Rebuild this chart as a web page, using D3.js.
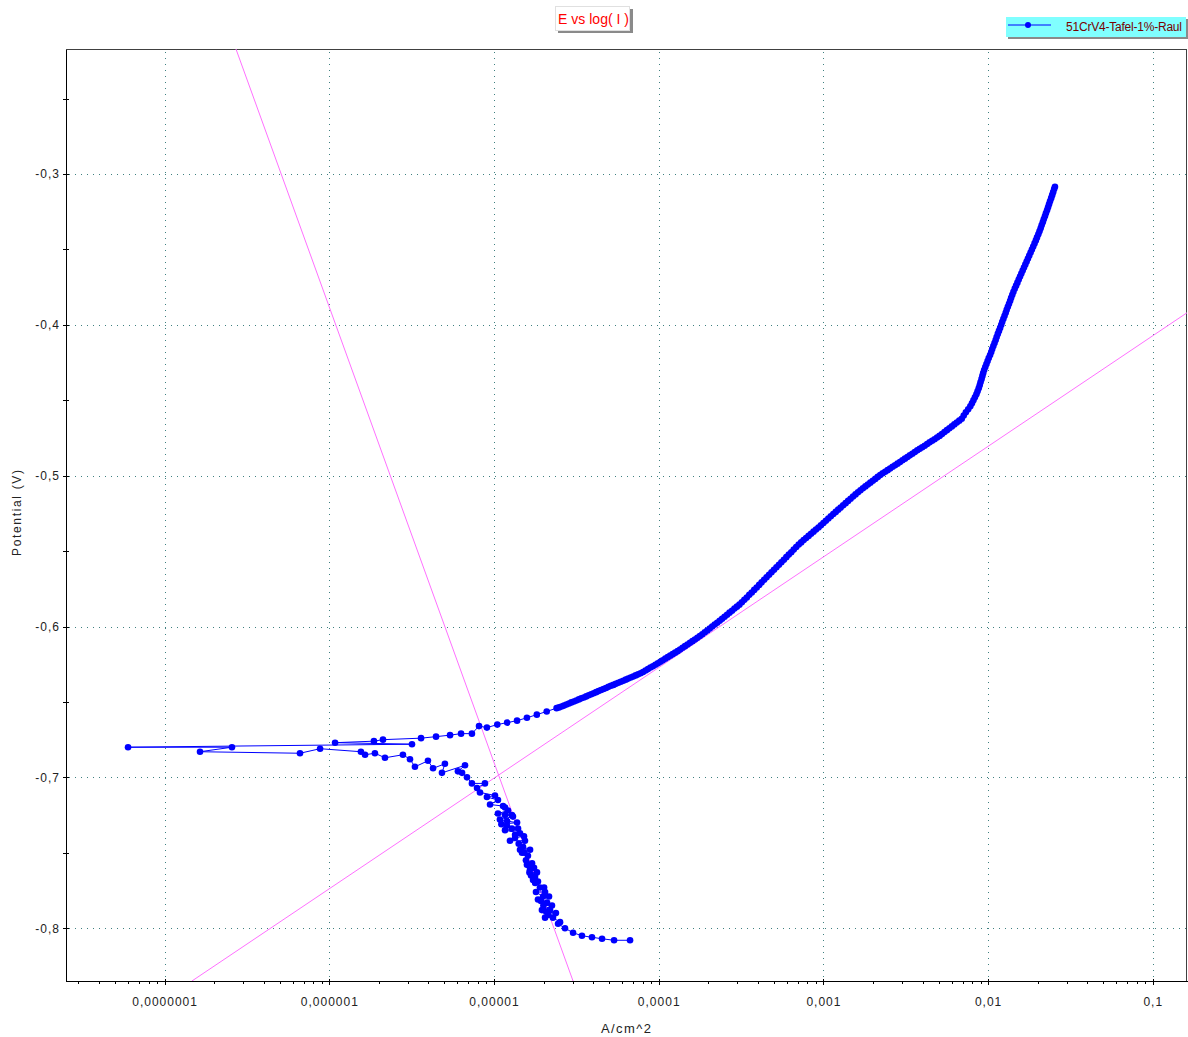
<!DOCTYPE html>
<html>
<head>
<meta charset="utf-8">
<script src="https://cdn.jsdelivr.net/npm/d3@7"></script>
<style>
	body { margin: 0; background: #fff; }
	svg { display: block; font-family: "Liberation Sans", Arial, sans-serif; }
</style>
</head>
<body>
<div id="chart"></div>
<script>
// scan data: [log10 current (A/cm^2), potential (V)], in scan order
var cathodicBranch = [
	[-4.174, -0.808], [-4.271, -0.808], [-4.344, -0.807], [-4.405, -0.806], [-4.466, -0.805],
	[-4.520, -0.803], [-4.569, -0.800], [-4.611, -0.797], [-4.599, -0.796], [-4.642, -0.793],
	[-4.690, -0.793], [-4.672, -0.791], [-4.624, -0.790], [-4.684, -0.789], [-4.660, -0.788],
	[-4.709, -0.788], [-4.648, -0.785], [-4.700, -0.785], [-4.678, -0.783], [-4.715, -0.782],
	[-4.733, -0.781], [-4.666, -0.779], [-4.702, -0.779], [-4.745, -0.776], [-4.690, -0.776],
	[-4.721, -0.773], [-4.696, -0.773], [-4.750, -0.770], [-4.733, -0.769], [-4.763, -0.768],
	[-4.751, -0.766], [-4.775, -0.765], [-4.739, -0.763], [-4.785, -0.763], [-4.781, -0.761],
	[-4.757, -0.760], [-4.800, -0.758], [-4.769, -0.757], [-4.806, -0.755], [-4.794, -0.752],
	[-4.815, -0.750], [-4.830, -0.750], [-4.842, -0.748], [-4.781, -0.748], [-4.824, -0.746],
	[-4.850, -0.744], [-4.812, -0.742], [-4.903, -0.742], [-4.872, -0.740], [-4.818, -0.739],
	[-4.872, -0.738], [-4.842, -0.737], [-4.933, -0.735], [-4.854, -0.734], [-4.891, -0.734],
	[-4.921, -0.732], [-4.955, -0.731], [-4.860, -0.730], [-4.920, -0.729], [-4.964, -0.728],
	[-4.885, -0.726], [-4.933, -0.725], [-4.891, -0.725], [-4.976, -0.724], [-4.915, -0.722],
	[-4.933, -0.720], [-4.945, -0.719], [-5.024, -0.718], [-4.976, -0.715], [-5.043, -0.713],
	[-4.994, -0.712], [-5.085, -0.710], [-5.103, -0.707], [-5.055, -0.704], [-5.134, -0.704],
	[-5.164, -0.700], [-5.194, -0.697], [-5.219, -0.696], [-5.176, -0.692]
];
var nearOcp = [
	[-5.316, -0.697], [-5.298, -0.691], [-5.370, -0.694], [-5.401, -0.689], [-5.480, -0.693],
	[-5.510, -0.688], [-5.553, -0.685], [-5.662, -0.687], [-5.723, -0.684], [-5.783, -0.685],
	[-5.808, -0.683], [-6.056, -0.681], [-6.178, -0.684], [-6.785, -0.683], [-6.591, -0.680],
	[-7.222, -0.680], [-5.498, -0.678], [-5.965, -0.677], [-5.729, -0.676], [-5.674, -0.675],
	[-5.443, -0.674], [-5.352, -0.673], [-5.267, -0.672], [-5.200, -0.671], [-5.134, -0.671],
	[-5.091, -0.666], [-5.043, -0.667]
];
var anodicBranch = [
	[-4.98, -0.6650], [-4.92, -0.6637], [-4.86, -0.6624], [-4.80, -0.6605], [-4.74, -0.6584],
	[-4.68, -0.6563], [-4.62, -0.6541], [-4.605, -0.6536], [-4.59, -0.6530], [-4.575, -0.6524],
	[-4.56, -0.6517], [-4.545, -0.6510], [-4.53, -0.6503], [-4.515, -0.6497], [-4.50, -0.6490],
	[-4.485, -0.6483], [-4.47, -0.6476], [-4.455, -0.6470], [-4.44, -0.6463], [-4.425, -0.6456],
	[-4.41, -0.6449], [-4.395, -0.6442], [-4.38, -0.6435], [-4.365, -0.6428], [-4.35, -0.6421],
	[-4.335, -0.6414], [-4.32, -0.6407], [-4.305, -0.6400], [-4.29, -0.6393], [-4.275, -0.6387],
	[-4.26, -0.6380], [-4.245, -0.6373], [-4.23, -0.6366], [-4.215, -0.6359], [-4.20, -0.6352],
	[-4.185, -0.6345], [-4.17, -0.6338], [-4.155, -0.6331], [-4.14, -0.6324], [-4.125, -0.6317],
	[-4.11, -0.6310], [-4.095, -0.6301], [-4.08, -0.6291], [-4.065, -0.6282], [-4.05, -0.6272],
	[-4.035, -0.6263], [-4.02, -0.6253], [-4.005, -0.6244], [-3.99, -0.6234], [-3.975, -0.6224],
	[-3.96, -0.6213], [-3.945, -0.6203], [-3.93, -0.6193], [-3.915, -0.6183], [-3.90, -0.6173],
	[-3.885, -0.6163], [-3.87, -0.6152], [-3.855, -0.6141], [-3.84, -0.6130], [-3.825, -0.6119],
	[-3.81, -0.6108], [-3.795, -0.6097], [-3.78, -0.6086], [-3.765, -0.6075], [-3.75, -0.6063],
	[-3.735, -0.6051], [-3.72, -0.6038], [-3.705, -0.6026], [-3.69, -0.6013], [-3.675, -0.6000],
	[-3.66, -0.5987], [-3.645, -0.5975], [-3.63, -0.5962], [-3.615, -0.5949], [-3.60, -0.5935],
	[-3.585, -0.5922], [-3.57, -0.5908], [-3.555, -0.5895], [-3.54, -0.5881], [-3.525, -0.5868],
	[-3.51, -0.5855], [-3.495, -0.5839], [-3.48, -0.5823], [-3.465, -0.5807], [-3.45, -0.5790],
	[-3.435, -0.5774], [-3.42, -0.5757], [-3.405, -0.5741], [-3.39, -0.5724], [-3.375, -0.5707],
	[-3.36, -0.5690], [-3.345, -0.5674], [-3.33, -0.5657], [-3.315, -0.5640], [-3.30, -0.5623],
	[-3.285, -0.5607], [-3.27, -0.5590], [-3.255, -0.5574], [-3.24, -0.5557], [-3.225, -0.5540],
	[-3.21, -0.5523], [-3.195, -0.5507], [-3.18, -0.5490], [-3.165, -0.5473], [-3.15, -0.5456],
	[-3.135, -0.5442], [-3.12, -0.5427], [-3.105, -0.5413], [-3.09, -0.5399], [-3.075, -0.5385],
	[-3.06, -0.5371], [-3.045, -0.5357], [-3.03, -0.5343], [-3.015, -0.5329], [-3.00, -0.5314],
	[-2.985, -0.5299], [-2.97, -0.5284], [-2.955, -0.5269], [-2.94, -0.5254], [-2.925, -0.5240],
	[-2.91, -0.5225], [-2.895, -0.5211], [-2.88, -0.5196], [-2.865, -0.5182], [-2.85, -0.5167],
	[-2.835, -0.5153], [-2.82, -0.5138], [-2.805, -0.5124], [-2.79, -0.5110], [-2.775, -0.5097],
	[-2.76, -0.5083], [-2.745, -0.5071], [-2.73, -0.5058], [-2.715, -0.5046], [-2.70, -0.5033],
	[-2.685, -0.5021], [-2.67, -0.5008], [-2.655, -0.4996], [-2.64, -0.4984], [-2.625, -0.4974],
	[-2.61, -0.4963], [-2.595, -0.4952], [-2.58, -0.4941], [-2.565, -0.4931], [-2.55, -0.4920],
	[-2.535, -0.4909], [-2.52, -0.4898], [-2.505, -0.4887], [-2.49, -0.4876], [-2.475, -0.4865],
	[-2.46, -0.4854], [-2.445, -0.4843], [-2.43, -0.4832], [-2.415, -0.4822], [-2.40, -0.4811],
	[-2.385, -0.4801], [-2.37, -0.4790], [-2.355, -0.4779], [-2.34, -0.4768], [-2.325, -0.4758],
	[-2.31, -0.4747], [-2.295, -0.4736], [-2.28, -0.4724], [-2.265, -0.4711], [-2.25, -0.4698],
	[-2.235, -0.4686], [-2.22, -0.4673], [-2.205, -0.4660], [-2.19, -0.4647], [-2.175, -0.4635],
	[-2.16, -0.4622], [-2.148, -0.4601]
];
var anodicSteep = [
	[-2.135, -0.458], [-2.121, -0.456], [-2.108, -0.454], [-2.098, -0.452], [-2.089, -0.450],
	[-2.080, -0.448], [-2.071, -0.446], [-2.064, -0.444], [-2.057, -0.442], [-2.051, -0.440],
	[-2.046, -0.438], [-2.040, -0.436], [-2.035, -0.434], [-2.030, -0.432], [-2.024, -0.430],
	[-2.017, -0.428], [-2.010, -0.426], [-2.003, -0.424], [-1.996, -0.422], [-1.988, -0.420],
	[-1.981, -0.418], [-1.975, -0.416], [-1.968, -0.414], [-1.961, -0.412], [-1.954, -0.410],
	[-1.948, -0.408], [-1.941, -0.406], [-1.934, -0.404], [-1.927, -0.402], [-1.920, -0.400],
	[-1.914, -0.398], [-1.907, -0.396], [-1.900, -0.394], [-1.893, -0.392], [-1.887, -0.390],
	[-1.880, -0.388], [-1.873, -0.386], [-1.866, -0.384], [-1.860, -0.382], [-1.853, -0.380],
	[-1.846, -0.378], [-1.838, -0.376], [-1.830, -0.374], [-1.822, -0.372], [-1.814, -0.370],
	[-1.806, -0.368], [-1.798, -0.366], [-1.790, -0.364], [-1.782, -0.362], [-1.774, -0.360],
	[-1.766, -0.358], [-1.758, -0.356], [-1.750, -0.354], [-1.742, -0.352], [-1.734, -0.350],
	[-1.726, -0.348], [-1.718, -0.346], [-1.710, -0.344], [-1.703, -0.342], [-1.695, -0.340],
	[-1.688, -0.338], [-1.681, -0.336], [-1.675, -0.334], [-1.668, -0.332], [-1.662, -0.330],
	[-1.655, -0.328], [-1.649, -0.326], [-1.642, -0.324], [-1.636, -0.322], [-1.630, -0.320],
	[-1.624, -0.318], [-1.617, -0.316], [-1.611, -0.314], [-1.605, -0.312], [-1.599, -0.310],
	[-1.594, -0.3085]
];

// Tafel fit lines, end points [log10 current, potential]
var tafelCathodic = [[-6.567, -0.217], [-4.520, -0.835]];
var tafelAnodic = [[-6.834, -0.835], [-0.786, -0.3915]];

var xMajorTicks = [1e-7, 1e-6, 1e-5, 1e-4, 1e-3, 1e-2, 1e-1];
var xTickLabels = ['0,0000001', '0,000001', '0,00001', '0,0001', '0,001', '0,01', '0,1'];
var yMajorTicks = [-0.8, -0.7, -0.6, -0.5, -0.4, -0.3];
var yTickLabels = ['-0,8', '-0,7', '-0,6', '-0,5', '-0,4', '-0,3'];
var yMinorTicks = [-0.75, -0.65, -0.55, -0.45, -0.35, -0.25];

var seriesName = '51CrV4-Tafel-1%-Raul';
var chartTitle = 'E vs log( I )';

var chart_width = 1188;
var chart_height = 1037;
var plot = { left: 66, right: 1187, top: 49, bottom: 981 };
var grid_color = '#3f8080';

var svg = d3.select('#chart')
	.append('svg')
	.attr('width', chart_width)
	.attr('height', chart_height);

// Create scales
var x_scale = d3.scaleLog()
	.domain([Math.pow(10, -7.5987), Math.pow(10, -0.7923)])
	.range([plot.left, plot.right]);
var y_scale = d3.scaleLinear()
	.domain([-0.835, -0.2171])
	.range([plot.bottom, plot.top]);

function px(d) { return x_scale(Math.pow(10, d[0])); }
function py(d) { return y_scale(d[1]); }

svg.append('clipPath')
	.attr('id', 'plot-clip')
	.append('rect')
	.attr('x', plot.left)
	.attr('y', plot.top)
	.attr('width', plot.right - plot.left)
	.attr('height', plot.bottom - plot.top);

// Grid
var grid = svg.append('g')
	.attr('stroke', grid_color)
	.attr('stroke-dasharray', '1,5')
	.attr('shape-rendering', 'crispEdges');
grid.selectAll('.vgrid')
	.data(xMajorTicks)
	.enter()
	.append('line')
	.attr('x1', function (d) { return Math.round(x_scale(d)) + 0.5; })
	.attr('x2', function (d) { return Math.round(x_scale(d)) + 0.5; })
	.attr('y1', plot.top + 3)
	.attr('y2', plot.bottom);
grid.selectAll('.hgrid')
	.data(yMajorTicks)
	.enter()
	.append('line')
	.attr('x1', plot.left + 3)
	.attr('x2', plot.right)
	.attr('y1', function (d) { return Math.round(y_scale(d)) + 0.5; })
	.attr('y2', function (d) { return Math.round(y_scale(d)) + 0.5; });

// Frame
svg.append('rect')
	.attr('x', plot.left + 0.5)
	.attr('y', plot.top + 0.5)
	.attr('width', plot.right - plot.left - 1)
	.attr('height', plot.bottom - plot.top)
	.attr('fill', 'none')
	.attr('stroke', '#404040')
	.attr('shape-rendering', 'crispEdges');

// Tafel lines
var line = d3.line().x(px).y(py);
var plot_area = svg.append('g').attr('clip-path', 'url(#plot-clip)');
plot_area.selectAll('.tafel')
	.data([tafelCathodic, tafelAnodic])
	.enter()
	.append('path')
	.attr('d', line)
	.attr('fill', 'none')
	.attr('stroke', '#ff70ff')
	.attr('stroke-width', 1);

// Scan line + points
var scan = cathodicBranch.concat(nearOcp, anodicBranch, anodicSteep);
plot_area.append('path')
	.datum(scan)
	.attr('d', line)
	.attr('fill', 'none')
	.attr('stroke', '#0000ff')
	.attr('stroke-width', 1);
plot_area.selectAll('circle')
	.data(scan)
	.enter()
	.append('circle')
	.attr('cx', px)
	.attr('cy', py)
	.attr('r', 3.3)
	.attr('fill', '#0000ff');

// Axes
function styleAxis(g) {
	g.select('.domain').attr('stroke', '#000');
	g.selectAll('.tick line').attr('stroke', '#000');
	g.selectAll('.tick text')
		.attr('font-family', '"Liberation Sans", Arial, sans-serif')
		.attr('font-size', 12)
		.attr('letter-spacing', 1)
		.attr('fill', '#222');
	g.attr('shape-rendering', 'crispEdges');
}

var x_minor = x_scale.ticks().filter(function (d) {
	return xMajorTicks.indexOf(d) < 0;
});
svg.append('g')
	.attr('transform', 'translate(0,' + plot.bottom + ')')
	.call(d3.axisBottom(x_scale).tickValues(x_minor).tickSize(3).tickSizeOuter(0).tickFormat(''))
	.call(styleAxis);
svg.append('g')
	.attr('transform', 'translate(0,' + plot.bottom + ')')
	.call(d3.axisBottom(x_scale)
		.tickValues(xMajorTicks)
		.tickSize(4)
		.tickSizeOuter(0)
		.tickPadding(12)
		.tickFormat(function (d, i) { return xTickLabels[i]; }))
	.call(styleAxis)
	.call(function (g) { g.selectAll('.tick line').attr('y1', -2); });

svg.append('g')
	.attr('transform', 'translate(' + plot.left + ',0)')
	.call(d3.axisLeft(y_scale).tickValues(yMinorTicks).tickSize(3).tickSizeOuter(0).tickFormat(''))
	.call(styleAxis)
	.call(function (g) { g.selectAll('.tick line').attr('x1', 3); });
svg.append('g')
	.attr('transform', 'translate(' + plot.left + ',0)')
	.call(d3.axisLeft(y_scale)
		.tickValues(yMajorTicks)
		.tickSize(3)
		.tickSizeOuter(0)
		.tickPadding(3)
		.tickFormat(function (d, i) { return yTickLabels[i]; }))
	.call(styleAxis)
	.call(function (g) { g.selectAll('.tick line').attr('x1', 3); });

// Axis titles
svg.append('text')
	.text('A/cm^2')
	.attr('x', 601)
	.attr('y', 1033)
	.attr('font-size', 13)
	.attr('textLength', 50)
	.attr('fill', '#222');
svg.append('text')
	.text('Potential (V)')
	.attr('transform', 'translate(21,556) rotate(-90)')
	.attr('font-size', 12)
	.attr('textLength', 86)
	.attr('fill', '#222');

// Title box
svg.append('rect')
	.attr('x', 558).attr('y', 9).attr('width', 75).attr('height', 24)
	.attr('fill', '#8a8a8a');
svg.append('rect')
	.attr('x', 555.5).attr('y', 6.5).attr('width', 74).attr('height', 24)
	.attr('fill', '#fff').attr('stroke', '#e0e0e0');
svg.append('text')
	.text(chartTitle)
	.attr('x', 558)
	.attr('y', 24)
	.attr('font-size', 14)
	.attr('textLength', 71)
	.attr('fill', '#ff0000');

// Legend
svg.append('rect')
	.attr('x', 1008).attr('y', 19).attr('width', 180).attr('height', 20)
	.attr('fill', '#8a8a8a');
svg.append('rect')
	.attr('x', 1006).attr('y', 17).attr('width', 180).attr('height', 20)
	.attr('fill', '#80ffff');
svg.append('line')
	.attr('x1', 1008).attr('x2', 1051).attr('y1', 25).attr('y2', 25)
	.attr('stroke', '#0000ff');
svg.append('circle')
	.attr('cx', 1028).attr('cy', 25).attr('r', 3)
	.attr('fill', '#0000ff');
svg.append('text')
	.text(seriesName)
	.attr('x', 1066)
	.attr('y', 31)
	.attr('font-size', 12)
	.attr('textLength', 116)
	.attr('fill', '#7a0000');
</script>
</body>
</html>
